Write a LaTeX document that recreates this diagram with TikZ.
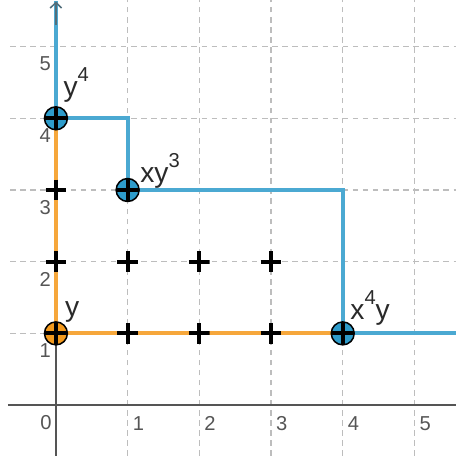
\documentclass[tikz,border=0pt]{standalone}
\usepackage{fontspec}
\setmainfont{Liberation Sans}
\usetikzlibrary{backgrounds,arrows.meta}
\definecolor{lineblue}{HTML}{4BA9D2}
\definecolor{fillblue}{HTML}{2E9CCB}
\definecolor{lineorange}{HTML}{F6A73B}
\definecolor{fillorange}{HTML}{F39A1E}
\definecolor{gridgray}{HTML}{BDBDBD}
\definecolor{axisgray}{HTML}{555555}
\definecolor{labelgray}{HTML}{2A2A2A}
\begin{document}
\begin{tikzpicture}[x=1cm,y=1cm,
  gridline/.style={draw=gridgray, line width=0.45pt, dash pattern=on 2.2pt off 1.8pt},
  axisline/.style={draw=axisgray, line width=0.65pt},
  bluepath/.style={draw=lineblue, line width=1.6pt},
  orangepath/.style={draw=lineorange, line width=1.6pt},
  plusdraw/.style={path picture={\draw[black, line width=1.6pt]
     (path picture bounding box.west) -- (path picture bounding box.east)
     (path picture bounding box.north) -- (path picture bounding box.south);}},
  plusmark/.style={rectangle, minimum size=0.29cm, inner sep=0pt, plusdraw},
  bigpoint/.style={circle, draw=black, line width=0.6pt, minimum size=0.32cm, inner sep=0pt, plusdraw},
  ticklabel/.style={text=axisgray, font=\fontsize{8}{9}\selectfont, inner sep=0pt},
  monolabel/.style={text=labelgray, font=\fontsize{11.2}{13}\selectfont, anchor=base west, inner sep=0pt}
]
\useasboundingbox (-0.78,-0.71) rectangle (5.58,5.65);

% main points
\node[bigpoint, fill=fillblue] (y4) at (0,4) {};
\node[bigpoint, fill=fillblue] (xy3) at (1,3) {};
\node[bigpoint, fill=fillblue] (x4y) at (4,1) {};
\node[bigpoint, fill=fillorange] (y1) at (0,1) {};

% plus marks
\node[plusmark] (p03) at (0,3) {};
\node[plusmark] (p02) at (0,2) {};
\node[plusmark] (p12) at (1,2) {};
\node[plusmark] (p22) at (2,2) {};
\node[plusmark] (p32) at (3,2) {};
\node[plusmark] (p11) at (1,1) {};
\node[plusmark] (p21) at (2,1) {};
\node[plusmark] (p31) at (3,1) {};

% free ends
\coordinate (topend) at (0,5.63);
\coordinate (rightend) at (5.58,1);
\coordinate (xaxl) at (-0.67,0);
\coordinate (xaxr) at (5.58,0);
\coordinate (yaxb) at (0,-0.71);

\begin{pgfonlayer}{background}
  \foreach \i in {1,...,5} {
    \draw[gridline] (\i,-0.71) -- (\i,5.65);
    \draw[gridline] (-0.64,\i) -- (5.58,\i);
  }
  \draw[axisline] (xaxl) -- (xaxr);
  \draw[axisline] (yaxb) -- (y1.center);
  % staircase paths
  \draw[orangepath] (y4.center) -- (y1.center) -- (x4y.center);
  \draw[bluepath] (topend) -- (y4.center) -| (xy3.center) -| (x4y.center) -- (rightend);
  \draw[draw=axisgray!70!lineblue, line width=0.6pt, -{Straight Barb[length=2.2pt,width=4.5pt]}] (0,5.3) -- (topend);
\end{pgfonlayer}

% tick labels
\node[ticklabel] (t0) at (-0.14,-0.245) {0};
\foreach \i in {1,...,5} {
  \node[ticklabel] (tx\i) at (\i+0.15,-0.255) {\i};
  \node[ticklabel] (ty\i) at (-0.15,\i-0.245) {\i};
}

% monomial labels
\node[monolabel] (ly4) at (0.10,4.30) {y\raisebox{1.05ex}{\fontsize{8}{9}\selectfont 4}};
\node[monolabel] (lxy3) at (1.17,3.10) {xy\raisebox{1.05ex}{\fontsize{8}{9}\selectfont 3}};
\node[monolabel] (lx4y) at (4.10,1.19) {x\raisebox{1.05ex}{\fontsize{8}{9}\selectfont 4}y};
\node[monolabel] (ly1) at (0.12,1.23) {y};
\end{tikzpicture}
\end{document}
